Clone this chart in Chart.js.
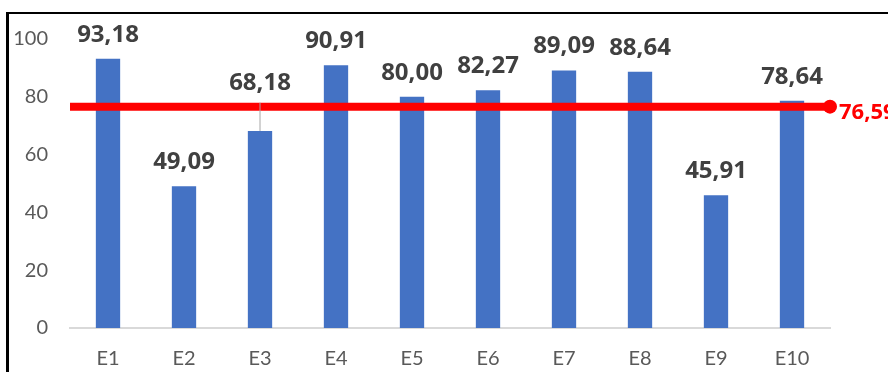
<!DOCTYPE html>
<html>
<head>
<meta charset="utf-8">
<script src="https://cdn.jsdelivr.net/npm/chart.js@4"></script>
<style>
    html, body { margin: 0; padding: 0; background: #ffffff; overflow: hidden; }
    #wrap { position: relative; width: 888px; height: 372px; }
    #frame {
        position: absolute; left: 6px; top: 12px; width: 900px; height: 400px;
        border-left: 3px solid #000; border-top: 2px solid #000;
    }
    canvas { position: absolute; left: 0; top: 0; }
</style>
</head>
<body>
<div id="wrap">
    <div id="frame"></div>
    <canvas id="chart" width="888" height="372"></canvas>
</div>
<script>
const categories = ["E1", "E2", "E3", "E4", "E5", "E6", "E7", "E8", "E9", "E10"];
const scores = [93.18, 49.09, 68.18, 90.91, 80.00, 82.27, 89.09, 88.64, 45.91, 78.64];
const average = [76.59];
const yTicks = [0, 20, 40, 60, 80, 100];

const fmt = (v) => v.toFixed(2).replace(".", ",");

// value labels above bars, plus the average label at the end of the red line
const labelPlugin = {
    id: "valueLabels",
    afterDatasetsDraw(chart) {
        const ctx = chart.ctx;
        const yScale = chart.scales.y;
        const avgY = yScale.getPixelForValue(average[0]);
        const bars = chart.getDatasetMeta(0).data;
        ctx.save();
        ctx.font = "bold 24px 'Open Sans'";
        ctx.textAlign = "center";
        ctx.textBaseline = "middle";
        bars.forEach((bar, i) => {
            let cy = bar.y - 24;
            if (Math.abs(cy - avgY) < 16) {
                // label would sit on the average line: lift it and add a leader
                cy = avgY - 23;
                ctx.strokeStyle = "#a6a6a6";
                ctx.lineWidth = 1;
                ctx.beginPath();
                ctx.moveTo(bar.x, avgY - 4);
                ctx.lineTo(bar.x, bar.y);
                ctx.stroke();
            }
            ctx.fillStyle = "#404040";
            ctx.fillText(fmt(scores[i]), bar.x, cy);
        });
        const pts = chart.getDatasetMeta(1).data;
        const end = pts[pts.length - 1];
        ctx.font = "bold 22px 'Open Sans'";
        ctx.fillStyle = "#ff0000";
        ctx.textAlign = "left";
        ctx.fillText(fmt(average[0]), end.x + 9, end.y + 6);
        ctx.restore();
    }
};

new Chart(document.getElementById("chart"), {
    type: "bar",
    data: {
        labels: categories,
        datasets: [
            {
                label: "Score",
                data: scores,
                backgroundColor: "#4472c4",
                categoryPercentage: 1,
                barPercentage: 0.32,
                grouped: false,
                order: 2,
            },
            {
                type: "line",
                label: "Moyenne",
                data: [{ x: 0, y: average[0] }, { x: 1, y: average[0] }],
                xAxisID: "x2",
                borderColor: "#ff0000",
                backgroundColor: "#ff0000",
                borderWidth: 8,
                pointRadius: [0, 7],
                pointBorderWidth: 0,
                clip: false,
                order: 1,
            },
        ],
    },
    options: {
        responsive: false,
        animation: false,
        layout: { padding: { top: 39, right: 58, bottom: 0, left: 0 } },
        plugins: {
            legend: { display: false },
            tooltip: { enabled: false },
        },
        scales: {
            x: {
                grid: { display: false, drawTicks: false },
                border: { color: "#d9d9d9", width: 2 },
                ticks: { color: "#595959", font: { family: "Lato", size: 20 }, padding: 19 },
                afterFit(scale) { scale.height = 44; },
            },
            x2: {
                type: "linear",
                min: 0,
                max: 1,
                offset: false,
                grid: { offset: false },
                display: false,
            },
            y: {
                min: yTicks[0],
                max: yTicks[yTicks.length - 1],
                afterBuildTicks(scale) { scale.ticks = yTicks.map((v) => ({ value: v })); },
                grid: { display: false, drawTicks: false },
                border: { display: false },
                ticks: { color: "#595959", font: { family: "Lato", size: 20 }, padding: 22 },
                afterFit(scale) { scale.width = 70; },
            },
        },
    },
    plugins: [labelPlugin],
});
</script>
</body>
</html>
